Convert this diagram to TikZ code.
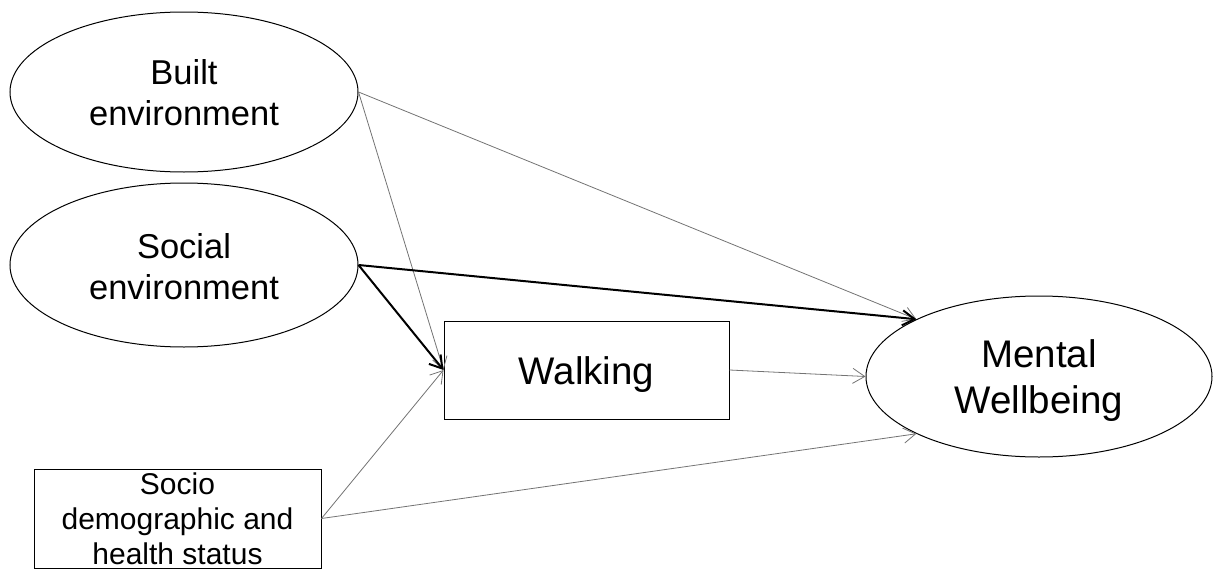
\documentclass[tikz,border=0pt]{standalone}
\usepackage{fontspec}
\setmainfont{Liberation Sans}
\usetikzlibrary{shapes.geometric,arrows.meta}
\begin{document}
\begin{tikzpicture}[x=1pt,y=-1pt,
  shapebox/.style={draw=black,line width=1pt,inner sep=0pt},
  oval/.style={shapebox,ellipse},
  txt/.style={align=center,inner sep=0pt,text=black},
  bigtxt/.style={txt,font=\fontsize{34.5}{41}\selectfont},
  hugetxt/.style={txt,font=\fontsize{38.5}{46}\selectfont},
  smalltxt/.style={txt,font=\fontsize{30}{35}\selectfont},
  thinarrow/.style={draw=black!55,line width=0.8pt,-{Straight Barb[length=12pt,width=15pt]}},
  thickarrow/.style={draw=black,line width=2pt,-{Straight Barb[length=12pt,width=15pt]}}]
\useasboundingbox (0,0) rectangle (1213,570);
% shapes
\node[oval,minimum width=348pt,minimum height=160pt] (built) at (184,92) {};
\node[oval,minimum width=348pt,minimum height=164pt] (social) at (184,265) {};
\node[oval,minimum width=346pt,minimum height=161pt] (mental) at (1039,376.5) {};
\node[shapebox,rectangle,minimum width=285pt,minimum height=98pt] (walking) at (586.5,370) {};
\node[shapebox,rectangle,minimum width=287pt,minimum height=99pt] (socio) at (177.5,518.5) {};
% texts
\node[bigtxt] (builttext) at (184,92.5) {Built\\environment};
\node[bigtxt] (socialtext) at (184,267) {Social\\environment};
\node[hugetxt] (mentaltext) at (1039,381) {Mental\\Wellbeing};
\node[hugetxt] (walkingtext) at (586.5,374.5) {Walking};
\node[smalltxt] (sociotext) at (177.5,519) {Socio\\demographic and\\health status};
% connectors
\draw[thinarrow] (built.east) -- (walking.west);
\draw[thinarrow] (built.east) -- (mental.north west);
\draw[thickarrow] (social.east) -- (walking.west);
\draw[thickarrow] (social.east) -- (mental.north west);
\draw[thinarrow] (socio.east) -- (walking.west);
\draw[thinarrow] (socio.east) -- (mental.south west);
\draw[thinarrow] (walking.east) -- (mental.west);
\end{tikzpicture}
\end{document}
